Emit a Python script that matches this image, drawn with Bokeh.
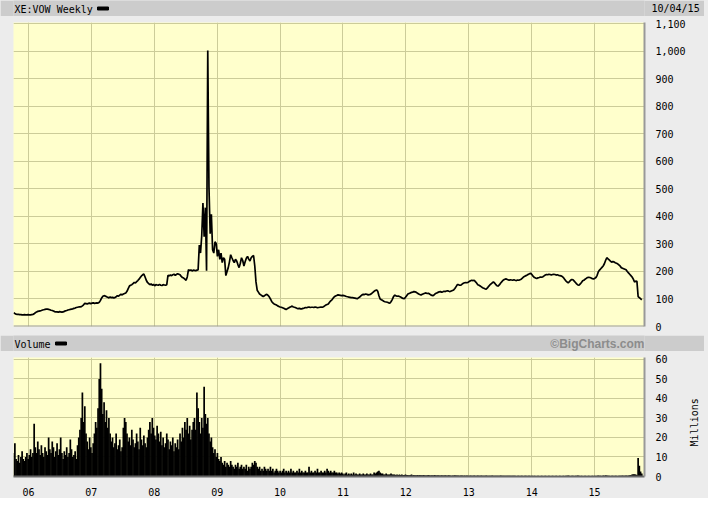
import math
import pandas as pd
from bokeh.plotting import figure
from bokeh.models import (Range1d, FixedTicker, DatetimeTickFormatter, NumeralTickFormatter,
                          ColumnDataSource, Label, Span)
from bokeh.layouts import column
from bokeh.embed import file_html
from bokeh.resources import INLINE

# ---------------- data (weekly) ----------------
title_text = "XE:VOW Weekly"
date_text = "10/04/15"
volume_title = "Volume"
credit_text = "\u00a9BigCharts.com"
volume_unit = "Millions"
first_week = "2005-10-07"

price = [
    50, 47, 45, 44, 44, 43, 43, 42, 42, 43, 42, 42, 43,
    42, 42, 43, 44, 46, 50, 53, 55,
    56, 57, 58, 60, 61, 62, 63, 63, 62, 61,
    59, 58, 56, 54, 53, 53, 52, 54, 53, 52,
    53, 55, 57, 58, 60, 61, 62, 63, 64, 66,
    67, 69, 70, 71, 71, 72, 75, 79, 84, 83,
    82, 84, 85, 83, 85, 86, 84, 85, 86, 85,
    88, 95, 104, 110, 112, 111, 108, 106, 104, 107,
    105, 106, 104, 105, 108, 112, 110, 114, 117, 115,
    118, 120, 122, 128, 138, 147, 150, 152, 156, 160,
    158, 163, 167, 172, 178, 184, 188, 191, 180, 168,
    160, 156, 152, 155, 150, 153, 148, 152, 151, 150,
    153, 150, 149, 152, 151, 150, 152, 186, 184, 187,
    185, 188, 190, 186, 189, 192, 190, 188, 182, 178,
    176, 172, 168, 180, 207, 203, 206, 202, 205, 204,
    203, 205, 206, 296, 267, 330, 449, 326, 432, 203,
    1003, 507, 337, 408, 279, 267, 308, 302, 255, 279,
    244, 267, 232, 250, 244, 185, 200, 214, 235, 261,
    250, 240, 232, 244, 238, 225, 214, 230, 250, 240,
    220, 235, 248, 255, 245, 238, 250, 255, 258, 220,
    162, 132, 125, 118, 115, 112, 109, 112, 115, 117,
    113, 108, 100, 91, 86, 82, 80, 78, 75, 73,
    71, 70, 68, 66, 64, 62,
    65, 67, 70, 72, 74, 71, 70, 68, 66, 65, 66, 64, 64, 66,
    67, 69, 68, 70, 71, 69, 70, 70, 69, 71, 70, 68, 69, 70, 71, 70,
    72, 75, 78, 80, 82, 88, 93, 97, 103, 108, 111, 113, 115, 114,
    113, 112, 113, 112, 111, 109, 108, 107, 106, 105, 105, 104, 103, 102, 101, 104, 107, 111, 115, 117,
    116, 118, 117, 115, 116, 117, 120, 124, 128, 131, 133, 128, 112, 100, 97,
    95, 92, 90, 89, 88, 86, 85, 90, 98, 108, 114, 112, 110, 111, 109,
    107, 104, 102, 101, 106, 112, 118, 120, 122, 124, 125, 127, 126, 124, 121,
    118, 116, 115, 117, 119, 121, 122, 120, 121, 118, 115, 113, 112, 116, 120,
    122, 124, 126, 127, 125, 126, 128, 127, 129, 130, 128, 127, 129, 131, 133, 138, 145, 152,
    152, 150, 150, 154, 157, 159, 160, 159, 161, 164, 166, 168, 167, 168, 163, 158, 152,
    150, 147, 144, 141, 139, 137, 136, 140, 146, 151, 155, 159, 162, 158, 152,
    148, 147, 152, 158, 163, 168, 171, 173, 172, 170, 168, 170, 169, 168, 170,
    168, 167, 169, 168, 170, 172, 176, 180, 183, 185, 187, 190, 192, 193, 188,
    182, 178, 176, 175, 177, 178, 180, 179, 181, 184, 187, 189, 188, 190, 189,
    187, 189, 190, 189, 187, 188, 186, 185, 184, 182, 178, 172, 166, 162, 159,
    163, 168, 171, 170, 165, 160, 155, 151, 150, 155, 160, 166, 168, 172, 175,
    178, 179, 178, 176, 174, 173, 175, 178, 186, 199, 205, 210, 215, 220, 228,
    240, 250, 246, 242, 238, 234, 236, 235, 232, 230, 228, 224, 220, 214, 212,
    210, 208, 206, 200, 195, 190, 185, 180, 172, 162, 165, 164, 109, 105, 101, 97,
]

volume = [
    12, 17, 9, 8, 11, 7, 10, 13, 9, 8, 10, 12, 9,
    11, 14, 10, 12, 27, 15, 12, 18,
    14, 11, 16, 12, 10, 15, 13, 11, 20, 14,
    12, 18, 15, 10, 13, 17, 11, 14, 20, 12,
    9, 13, 11, 15, 10, 12, 19, 14, 10, 11,
    13, 9, 16, 20, 24, 30, 43, 28, 36, 22,
    18, 14, 20, 15, 12, 17, 22, 28, 25, 35,
    50, 58, 45, 32, 38, 28, 34, 25, 30, 22,
    18, 20, 15, 17, 22, 14, 16, 19, 13, 15,
    25, 30, 28, 22, 18, 20, 16, 24, 19, 15,
    17, 22, 18, 14, 25, 19, 16, 21, 17, 15,
    20, 24, 28, 22, 30, 25, 21, 19, 26, 22,
    18, 23, 16, 20, 15, 17, 22, 19, 14, 18,
    16, 20, 13, 17, 15, 19, 14, 22, 18, 25,
    20, 28, 24, 30, 22, 26, 19, 24, 28, 30,
    24, 43, 35, 28, 22, 30, 25, 46, 32, 27,
    30, 22, 18, 20, 15, 12, 14, 10, 12, 9,
    8, 10, 7, 6, 8, 5, 7, 6, 5, 8,
    6, 5, 4, 6, 5, 7, 4, 5, 6, 4,
    5, 4, 6, 3, 5, 4, 5, 7, 6, 8,
    7, 5, 4, 5, 3, 4, 3, 5, 4, 3,
    4, 3, 5, 3, 4, 2, 3, 4, 3, 2,
    3, 2, 3, 4, 2, 3,
    2, 3, 2, 4, 2, 3, 2, 2, 3, 2, 4, 2, 3, 2,
    2, 3, 2, 2, 5, 2, 3, 2, 2, 3, 2, 4, 2, 2, 3, 2,
    2, 3, 2, 4, 3, 2, 3, 2, 2, 3, 2, 2, 1.5, 2,
    1.5, 2, 1.5, 1, 1.5, 2, 1, 1.5, 1, 1.5, 1, 2, 1, 1.5, 1, 1, 1.5, 1, 1, 1.5,
    1, 1, 1.5, 1, 1, 1.5, 1, 1, 2, 1.5, 2, 2.5, 3, 2, 1.5,
    1.5, 1, 1, 1.5, 1, 1, 1, 1.5, 1, 1, 1, 0.8, 1, 0.8, 1,
    0.8, 1, 0.8, 0.8, 1, 0.8, 0.8, 0.6, 0.8, 1, 0.6, 0.8, 0.6, 0.6, 0.8,
    0.6, 0.8, 0.6, 0.6, 0.8, 0.6, 0.5, 0.6, 0.8, 0.6, 0.5, 0.6, 0.5, 0.8, 0.6,
    0.5, 0.6, 0.5, 0.5, 0.6, 0.5, 0.5, 0.6, 0.5, 0.5, 0.6, 0.5, 0.4, 0.5, 0.5, 0.6, 0.5, 0.5,
    0.5, 0.4, 0.5, 0.5, 0.4, 0.5, 0.4, 0.5, 0.4, 0.4, 0.5, 0.4, 0.4, 0.5, 0.4, 0.4, 0.5,
    0.4, 0.4, 0.5, 0.4, 0.4, 0.4, 0.5, 0.4, 0.4, 0.4, 0.4, 0.5, 0.4, 0.4, 0.4,
    0.4, 0.4, 0.4, 0.5, 0.4, 0.4, 0.4, 0.4, 0.4, 0.4, 0.4, 0.4, 0.4, 0.4, 0.4,
    0.4, 0.3, 0.4, 0.4, 0.3, 0.4, 0.4, 0.3, 0.4, 0.4, 0.3, 0.4, 0.4, 0.3, 0.4,
    0.3, 0.4, 0.3, 0.3, 0.4, 0.3, 0.3, 0.4, 0.3, 0.3, 0.4, 0.3, 0.3, 0.4, 0.3,
    0.3, 0.4, 0.3, 0.3, 0.4, 0.3, 0.3, 0.4, 0.3, 0.3, 0.4, 0.3, 0.4, 0.4, 0.5,
    0.4, 0.3, 0.4, 0.4, 0.3, 0.4, 0.4, 0.5, 0.4, 0.3, 0.4, 0.3, 0.3, 0.4, 0.3,
    0.3, 0.4, 0.3, 0.3, 0.4, 0.3, 0.4, 0.3, 0.4, 0.5, 0.4, 0.4, 0.3, 0.5, 0.4,
    0.6, 0.5, 0.4, 0.4, 0.3, 0.4, 0.4, 0.3, 0.4, 0.4, 0.3, 0.4, 0.4, 0.4, 0.5,
    0.4, 0.4, 0.5, 0.4, 0.5, 0.6, 0.8, 1, 1.2, 1.2, 1, 0.8, 9.5, 5.5, 2.5, 1.5,
]

price_ticks = [0, 100, 200, 300, 400, 500, 600, 700, 800, 900, 1000, 1100]
volume_ticks = [0, 10, 20, 30, 40, 50, 60]
tick_years = [2006, 2007, 2008, 2009, 2010, 2011, 2012, 2013, 2014, 2015]
year_labels = ["06", "07", "08", "09", "10", "11", "12", "13", "14", "15"]

# ---------------- styling ----------------
PAGE_BG = "#ececec"
BAR_BG = "#cccccc"
PLOT_BG = "#ffffcc"
GRID = "#cccc99"
SHADOW = "#999999"
MONO = "DejaVu Sans Mono"
LEFT, RIGHT, FRAME_W = 13, 60, 631

n = min(len(price), len(volume))
dates = pd.date_range(first_week, periods=n, freq="7D")
src = ColumnDataSource(dict(date=dates, price=price[:n], volume=volume[:n]))

x_range = Range1d(pd.Timestamp("2005-10-06"), pd.Timestamp("2015-10-18"))
year_ms = [pd.Timestamp(f"{y}-01-01").value // 10**6 for y in tick_years]
year_ticker = FixedTicker(ticks=year_ms)


def header(left_text, dash_x, right_text=None, right_font=MONO, right_size="10px",
           right_style="normal", right_color="black", side_text=None):
    # frame laid out exactly like the chart panels; data x == pixel x in the figure
    h = figure(frame_width=FRAME_W, frame_height=16,
               x_range=Range1d(LEFT, LEFT + FRAME_W), y_range=Range1d(0, 16),
               x_axis_location=None, y_axis_location="right" if side_text else None,
               toolbar_location=None, output_backend="svg",
               min_border_left=LEFT, min_border_right=RIGHT,
               min_border_top=0, min_border_bottom=0, background_fill_color=BAR_BG,
               border_fill_color=BAR_BG, outline_line_color=None)
    h.xgrid.visible = False
    h.ygrid.visible = False
    h.add_layout(Label(x=LEFT + 1, y=7.5, text=left_text, text_baseline="middle",
                       text_font=MONO, text_font_size="10px", text_color="black"))
    h.quad(left=[dash_x], right=[dash_x + 11], bottom=[6.5], top=[9.5], color="black")
    if right_text:
        h.add_layout(Label(x=LEFT + FRAME_W, y=7.5, text=right_text, text_baseline="middle",
                           text_align="right", text_font=right_font,
                           text_font_size=right_size, text_font_style=right_style,
                           text_color=right_color))
    if side_text:
        ax = h.yaxis[0]
        ax.ticker = FixedTicker(ticks=[8])
        ax.major_label_overrides = {8: side_text}
        ax.axis_line_color = None
        ax.major_tick_line_color = None
        ax.minor_tick_line_color = None
        ax.major_label_standoff = 1
        ax.major_label_text_font = MONO
        ax.major_label_text_font_size = "10px"
        ax.major_label_text_color = "black"
    return h


def style_panel(p):
    p.background_fill_color = PLOT_BG
    p.border_fill_color = PAGE_BG
    p.outline_line_color = None
    p.xgrid.ticker = year_ticker
    for g in (p.xgrid, p.ygrid):
        g.grid_line_color = GRID
        g.grid_line_width = 1
    ax = p.yaxis[0]
    ax.major_tick_line_color = None
    ax.minor_tick_line_color = None
    ax.axis_line_color = SHADOW
    ax.axis_line_width = 2
    ax.major_label_text_font = MONO
    ax.major_label_text_font_size = "10px"
    ax.major_label_text_color = "black"
    ax.major_label_standoff = 5


# ---------------- price panel ----------------
hdr1 = header(title_text, 97, side_text=date_text)

pp = figure(frame_width=FRAME_W, frame_height=304, x_range=x_range, y_range=Range1d(0, 1105),
            x_axis_type="datetime", x_axis_location=None, y_axis_location="right",
            toolbar_location=None, output_backend="svg",
            min_border_left=LEFT, min_border_right=RIGHT, min_border_top=6, min_border_bottom=9)
style_panel(pp)
pp.yaxis.ticker = FixedTicker(ticks=price_ticks)
pp.yaxis.formatter = NumeralTickFormatter(format="0,0")
pp.line("date", "price", source=src, line_color="black", line_width=1.7)
pp.add_layout(Span(location=0, dimension="width", line_color=SHADOW, line_width=2))

# ---------------- volume panel ----------------
hdr2 = header(volume_title, 55, right_text=credit_text, right_font="Liberation Sans",
              right_size="12px", right_style="bold", right_color="#8c8c8c")

vp = figure(frame_width=FRAME_W, frame_height=119, x_range=x_range, y_range=Range1d(0, 61),
            x_axis_type="datetime", y_axis_location="right",
            toolbar_location=None, output_backend="svg",
            min_border_left=LEFT, min_border_right=RIGHT, min_border_top=6, min_border_bottom=18)
style_panel(vp)
vax = vp.yaxis[0]
vax.ticker = FixedTicker(ticks=volume_ticks)
vax.axis_label_text_font = MONO
vax.axis_label_text_font_size = "10px"
vax.axis_label_text_font_style = "normal"
vax.axis_label_text_color = "black"
vax.axis_label_standoff = 24
try:
    # read bottom-to-top like the original; the label then starts at the axis start,
    # so it is led by blank (non-breaking) characters to sit at mid height
    vax.axis_label_orientation = math.pi / 2
    vax.axis_label_align = "start"
    vax.axis_label = "\u00a0" * 5 + volume_unit
except Exception:
    vax.axis_label = volume_unit

xa = vp.xaxis[0]
xa.ticker = year_ticker
xa.formatter = DatetimeTickFormatter(years="%y", months="%y", days="%y")
xa.major_label_overrides = {ms: lab for ms, lab in zip(year_ms, year_labels)}
xa.major_tick_line_color = None
xa.minor_tick_line_color = None
xa.axis_line_color = "#666666"
xa.axis_line_width = 2
xa.major_label_text_font = MONO
xa.major_label_text_font_size = "10px"
xa.major_label_text_color = "black"
xa.major_label_standoff = 5
vp.vbar(x="date", top="volume", width=10 * 86400000, source=src,
        fill_color="black", line_color=None)

layout = column(hdr1, pp, hdr2, vp, spacing=0, background=PAGE_BG)
open("out.html", "w").write(file_html(layout, INLINE))
